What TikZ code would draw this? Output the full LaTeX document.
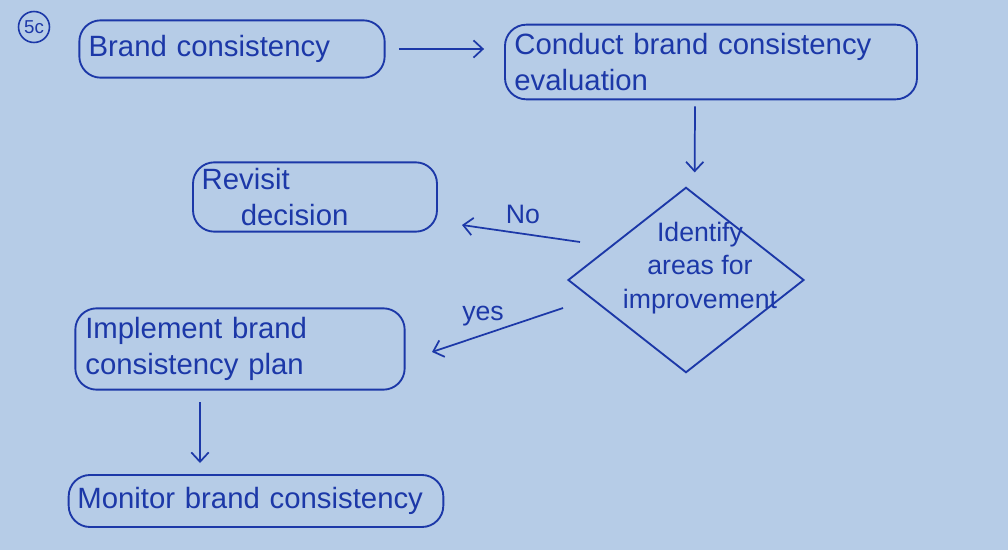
\documentclass[tikz,border=0pt]{standalone}
\usepackage{fontspec}
\setmainfont{Liberation Sans}
\usetikzlibrary{shapes.geometric,arrows.meta}

\definecolor{paper}{RGB}{182,204,231}
\definecolor{ink}{RGB}{28,56,168}

\tikzset{
  box/.style={draw=ink, line width=1.4pt, rounded corners=16pt, text=ink,
    align=left, inner sep=0pt, font=\fontsize{22}{27}\selectfont},
  decision/.style={draw=ink, line width=1.4pt, diamond, inner sep=0pt},
  flow/.style={draw=ink, line width=1.3pt, -{Straight Barb[length=7pt,width=13pt]}},
  tag/.style={text=ink, font=\fontsize{20}{24}\selectfont}
}

\begin{document}
\begin{tikzpicture}[x=0.75pt,y=0.75pt,yscale=-1,xscale=1]
        % paper, also fixes the size
        \fill [paper] (0,0) rectangle (1008,550);

        % number of the question
        \node (num) [draw=ink, line width=1.2pt, circle, inner sep=2pt, text=ink,
          font=\fontsize{14}{16}\selectfont] at (34,27) {5c};

        % Boxes
        \node (brand) [box, minimum width=229pt, minimum height=43pt,
          text width=215pt] at (232,49) {Brand consistency};
        \node (evaluate) [box, minimum width=309pt, minimum height=56pt,
          text width=295pt] at (711,62) {Conduct brand consistency\\evaluation};
        \node (revisit) [box, minimum width=183pt, minimum height=52pt,
          text width=170pt] at (315,197) {Revisit\\\quad\ decision};
        \node (implement) [box, minimum width=247pt, minimum height=61pt,
          text width=232pt] at (240,349) {Implement brand\\consistency plan};
        \node (monitor) [box, minimum width=281pt, minimum height=39pt,
          text width=268pt] at (256,501) {Monitor brand consistency};

        % Decision
        \node (identify) [decision, minimum width=177pt, minimum height=139pt] at (686,280) {};
        \node (identifyText) [text=ink, align=center, font=\fontsize{20}{25}\selectfont]
          at (700,268) {Identify\\areas for\\improvement};

        % Connectors
        \draw [flow] ([xshift=10pt]brand.east) -- ([xshift=-15pt]evaluate.west |- brand.east);
        \draw [flow] ([xshift=-12pt,yshift=4.5pt]evaluate.south) -- ([xshift=6.5pt,yshift=-10.5pt]identify.north);
        \coordinate (noStart) at (580,242);
        \coordinate (noEnd) at (462,225);
        \draw [flow] (noStart) -- (noEnd);
        \coordinate (yesStart) at (563,308);
        \coordinate (yesEnd) at (432,352);
        \draw [flow] (yesStart) -- (yesEnd);
        \coordinate (planOut) at (200,402);
        \coordinate (monitorIn) at (200,463);
        \draw [flow] (planOut) -- (monitorIn);

        % Text Node
        \node (no) [tag] at (523,214) {No};
        % Text Node
        \node (yes) [tag] at (483,316) {yes};
    \end{tikzpicture}
\end{document}
